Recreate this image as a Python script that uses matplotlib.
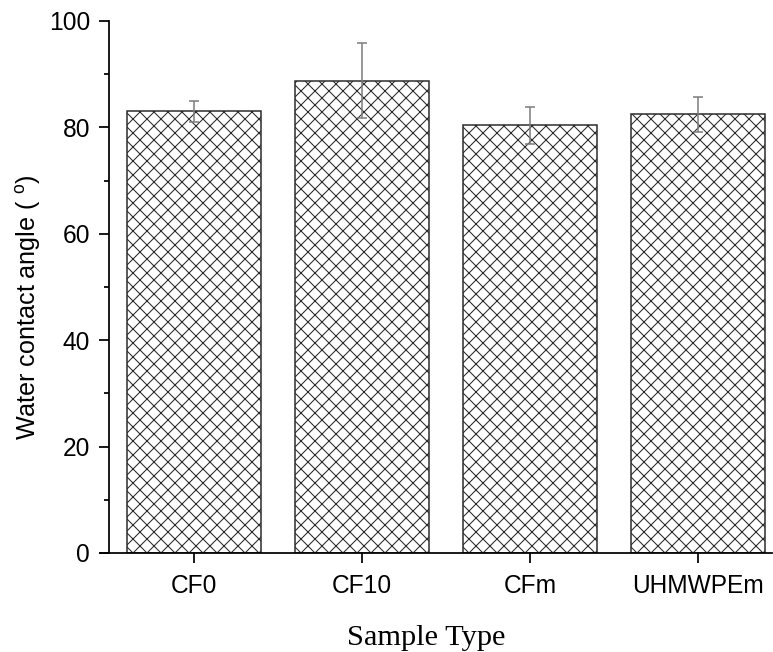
import matplotlib
matplotlib.use("Agg")
import matplotlib.pyplot as plt
from matplotlib.ticker import MultipleLocator

categories = ["CF0", "CF10", "CFm", "UHMWPEm"]
values = [83.0, 88.8, 80.4, 82.5]
errors = [1.9, 7.1, 3.5, 3.3]

DPI = 84
px = 72.0 / DPI
plt.rcParams['hatch.color'] = '#9a9a9a'
plt.rcParams['hatch.linewidth'] = 0.9
plt.rcParams['mathtext.fontset'] = 'custom'
plt.rcParams['mathtext.rm'] = 'Liberation Sans'
plt.rcParams['mathtext.it'] = 'Liberation Sans:italic'

fig = plt.figure(figsize=(773 / DPI, 652 / DPI), dpi=DPI)
ax = fig.add_axes([100 / 773, 1 - 553 / 652, (772 - 100) / 773, (553 - 21) / 652])

x = list(range(len(categories)))
ax.bar(x, values, width=0.8, color='white', edgecolor='#2a2a2a', linewidth=1.3,
       hatch='xx', zorder=2)
ax.errorbar(x, values, yerr=errors, fmt='none', ecolor='#7a7a7a', elinewidth=1.3,
            capsize=5 * px, capthick=1.3, zorder=3)

ax.set_xlim(-0.56, 3.44)
ax.set_ylim(0, 100)
ax.spines['top'].set_visible(False)
ax.spines['right'].set_visible(False)
ax.spines['left'].set_position(('data', -0.505))
for s in ('left', 'bottom'):
    ax.spines[s].set_linewidth(1.5)

ax.yaxis.set_major_locator(MultipleLocator(20))
ax.yaxis.set_minor_locator(MultipleLocator(10))
ax.set_xticks(x)
ax.set_xticklabels(categories)
ax.tick_params(axis='both', which='major', direction='out', length=10 * px, width=1.5,
               labelsize=21)
ax.tick_params(axis='x', which='major', pad=11 * px)
ax.tick_params(axis='y', which='major', pad=9 * px)
ax.tick_params(axis='y', which='minor', direction='out', length=5 * px, width=1.5)
for lab in ax.get_xticklabels() + ax.get_yticklabels():
    lab.set_family('Liberation Sans')

ax.set_ylabel('Water contact angle ( $^{\\rm o}$)', family='Liberation Sans', fontsize=21.5)
ax.yaxis.set_label_coords((43 - 100) / 672, (553 - 307) / 532)
ax.set_xlabel('Sample Type', family='Liberation Serif', fontsize=26)
ax.xaxis.set_label_coords((426 - 100) / 672, -(625 - 553) / 532)

fig.savefig('out.png', dpi=DPI)
